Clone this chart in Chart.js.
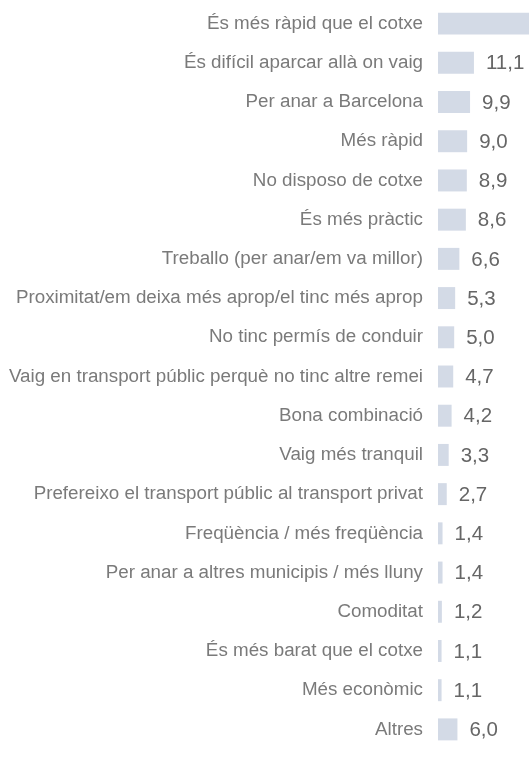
<!DOCTYPE html>
<html>
<head>
<meta charset="utf-8">
<script src="https://cdn.jsdelivr.net/npm/chart.js@4/dist/chart.umd.min.js"></script>
<style>
html,body{margin:0;padding:0;background:#fff;}
#wrap{width:529px;height:758px;position:relative;}
</style>
</head>
<body>
<div id="wrap"><canvas id="c" width="529" height="758"></canvas></div>
<script>
const categories = [
  "És més ràpid que el cotxe",
  "És difícil aparcar allà on vaig",
  "Per anar a Barcelona",
  "Més ràpid",
  "No disposo de cotxe",
  "És més pràctic",
  "Treballo (per anar/em va millor)",
  "Proximitat/em deixa més aprop/el tinc més aprop",
  "No tinc permís de conduir",
  "Vaig en transport públic perquè no tinc altre remei",
  "Bona combinació",
  "Vaig més tranquil",
  "Prefereixo el transport públic al transport privat",
  "Freqüència / més freqüència",
  "Per anar a altres municipis / més lluny",
  "Comoditat",
  "És més barat que el cotxe",
  "Més econòmic",
  "Altres"
];
const values = [38.5, 11.1, 9.9, 9.0, 8.9, 8.6, 6.6, 5.3, 5.0, 4.7, 4.2, 3.3, 2.7, 1.4, 1.4, 1.2, 1.1, 1.1, 6.0];
const xMax = 28.1;

const valueLabels = {
  id: 'valueLabels',
  afterDatasetsDraw(chart) {
    const ctx = chart.ctx;
    const meta = chart.getDatasetMeta(0);
    ctx.save();
    ctx.font = '20.5px "Liberation Sans", Arial, sans-serif';
    ctx.fillStyle = '#666666';
    ctx.textBaseline = 'middle';
    ctx.textAlign = 'left';
    meta.data.forEach((bar, i) => {
      const txt = values[i].toFixed(1).replace('.', ',');
      ctx.fillText(txt, bar.x + 12, bar.y + 1);
    });
    ctx.restore();
  }
};

new Chart(document.getElementById('c'), {
  type: 'bar',
  data: {
    labels: categories,
    datasets: [{
      data: values,
      backgroundColor: '#d3dae6',
      borderWidth: 0,
      barPercentage: 0.56,
      categoryPercentage: 1.0
    }]
  },
  options: {
    indexAxis: 'y',
    responsive: false,
    animation: false,
    events: [],
    layout: { padding: { top: 4, bottom: 9, left: 0, right: 0 } },
    plugins: { legend: { display: false }, tooltip: { enabled: false } },
    scales: {
      x: { display: false, min: 0, max: xMax },
      y: {
        grid: { display: false, drawTicks: false },
        border: { display: false },
        ticks: {
          padding: 15,
          color: '#7a7a7a',
          font: { family: '"Liberation Sans", Arial, sans-serif', size: 18.8 }
        },
        afterFit(scale) {
          scale.width = 438;
          scale.paddingTop = 0;
          scale.paddingBottom = 0;
        }
      }
    }
  },
  plugins: [valueLabels]
});
</script>
</body>
</html>
